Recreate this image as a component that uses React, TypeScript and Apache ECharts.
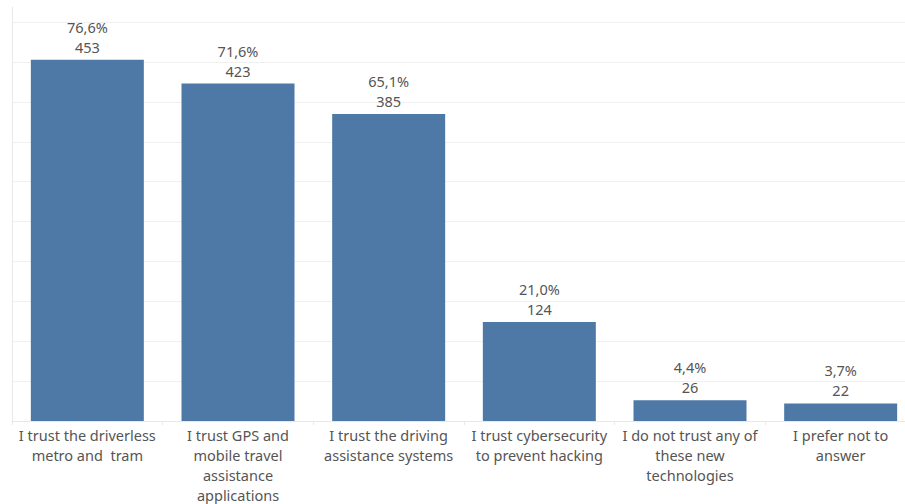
import React, { useEffect, useRef } from "react";
import * as echarts from "echarts";

const categories = [
  "I trust the driverless\nmetro and  tram",
  "I trust GPS and\nmobile travel\nassistance\napplications",
  "I trust the driving\nassistance systems",
  "I trust cybersecurity\nto prevent hacking",
  "I do not trust any of\nthese new\ntechnologies",
  "I prefer not to\nanswer",
];
const counts = [453, 423, 385, 124, 26, 22];
const percents = [76.6, 71.6, 65.1, 21.0, 4.4, 3.7];

const FONT = "Noto Sans";

export default function App() {
  const ref = useRef<HTMLDivElement>(null);
  useEffect(() => {
    if (!ref.current) return;
    const chart = echarts.init(ref.current, null, { renderer: "svg" });
    chart.setOption({
      animation: false,
      backgroundColor: "#ffffff",
      grid: {
        left: 12,
        top: 7,
        width: 904,
        bottom: 83,
        containLabel: false,
        outerBoundsMode: "none",
      },
      xAxis: {
        type: "category",
        data: categories,
        axisLine: { show: true, lineStyle: { color: "#e8e8e8", width: 1 } },
        axisTick: { show: true, length: 4, lineStyle: { color: "#e8e8e8" } },
        axisLabel: {
          interval: 0,
          color: "#555",
          fontFamily: FONT,
          fontSize: 14.5,
          lineHeight: 20,
          margin: 4,
        },
        splitLine: { show: false },
      },
      yAxis: {
        type: "value",
        min: 0,
        max: 519,
        interval: 50,
        axisLine: { show: true, lineStyle: { color: "#e8e8e8" } },
        axisTick: { show: false },
        axisLabel: { show: false },
        splitLine: { show: true, showMaxLine: false, lineStyle: { color: "#f0f0f0", width: 1 } },
      },
      series: [
        {
          type: "bar",
          data: counts,
          barWidth: 113,
          itemStyle: { color: "#4e79a7" },
          label: {
            show: true,
            position: "top",
            distance: 3,
            fontFamily: FONT,
            color: "#555",
            fontSize: 14.5,
            lineHeight: 20,
            formatter: (p: any) =>
              percents[p.dataIndex].toFixed(1).replace(".", ",") + "%\n" + counts[p.dataIndex],
          },
        },
      ],
    });
    return () => chart.dispose();
  }, []);
  return (
    <div style={{ position: "fixed", left: 0, top: 0, width: 905, height: 504, overflow: "hidden" }}>
      <div ref={ref} style={{ position: "absolute", left: 0, top: 0, width: 930, height: 504 }} />
    </div>
  );
}
